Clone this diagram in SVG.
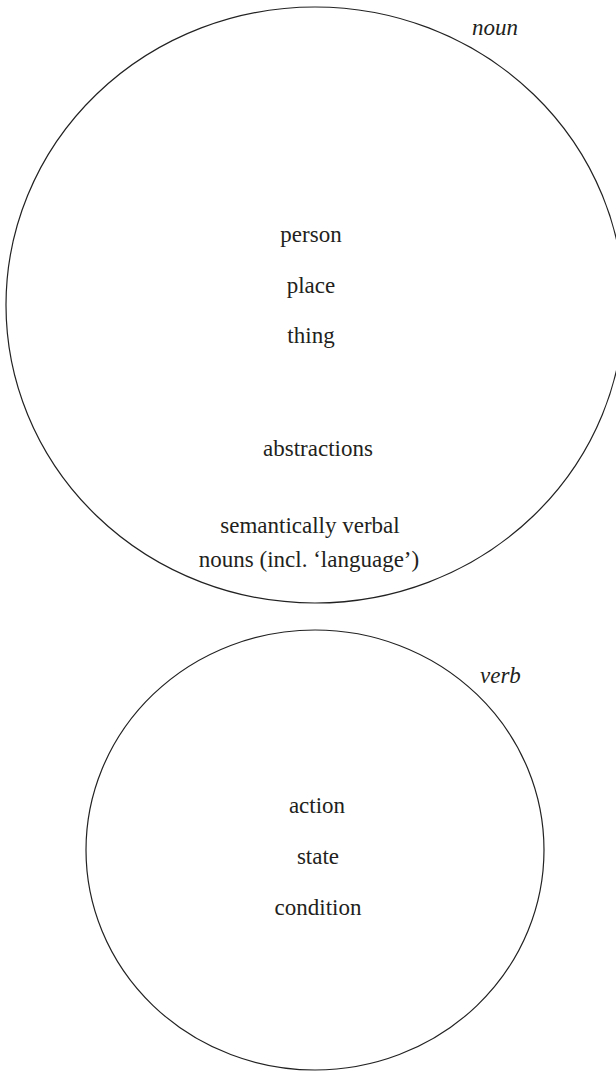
<svg xmlns="http://www.w3.org/2000/svg" width="616" height="1072" viewBox="0 0 616 1072">
<style>
.shape{fill:none;stroke:#222;stroke-width:1.2}
.t{font-family:"Liberation Serif","Times New Roman",serif;font-size:23px;fill:#231f20;text-anchor:middle}
.lab{font-family:"Liberation Serif","Times New Roman",serif;font-size:23px;font-style:italic;fill:#231f20}
</style>
<rect width="616" height="1072" fill="#fff"/>
<g id="noun">
<ellipse class="shape" cx="315" cy="305" rx="309" ry="298"/>
<text class="lab" x="472" y="35">noun</text>
<text class="t" x="311" y="242">person</text>
<text class="t" x="311" y="293">place</text>
<text class="t" x="311" y="343">thing</text>
<text class="t" x="318" y="456">abstractions</text>
<text class="t" x="310" y="533">semantically verbal</text>
<text class="t" x="309" y="567">nouns (incl. ‘language’)</text>
</g>
<g id="verb">
<ellipse class="shape" cx="315" cy="850" rx="229" ry="220"/>
<text class="lab" x="480" y="683">verb</text>
<text class="t" x="317" y="813">action</text>
<text class="t" x="318" y="864">state</text>
<text class="t" x="318" y="915">condition</text>
</g>
<g id="connectors"/>
</svg>
